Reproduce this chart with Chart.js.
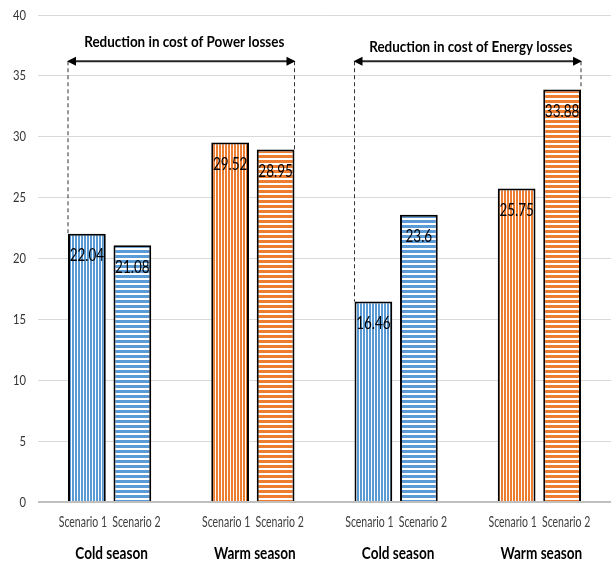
<!DOCTYPE html>
<html>
<head>
<meta charset="utf-8">
<script src="https://cdn.jsdelivr.net/npm/chart.js@4.4.1/dist/chart.umd.min.js"></script>
<style>
  html, body { margin: 0; padding: 0; background: #fff; }
  #wrap { width: 611px; height: 565px; position: relative; }
</style>
</head>
<body>
<div id="wrap"><canvas id="c" width="611" height="565"></canvas></div>
<script>
// Cost reduction per season and scenario
const seasons = ['Cold season', 'Warm season', 'Cold season', 'Warm season'];
const scenarios = ['Scenario 1', 'Scenario 2'];
const scenario1 = [22.04, 29.52, 16.46, 25.75];
const scenario2 = [21.08, 28.95, 23.6, 33.88];
const bracketTitles = ['Reduction in cost of Power losses', 'Reduction in cost of Energy losses'];
const yTicks = [0, 5, 10, 15, 20, 25, 30, 35, 40];

const FONT = "Lato, 'Liberation Sans', sans-serif";
const BLUE = '#5B9BD5';
const ORANGE = '#ED7D31';
const seasonColor = i => (i % 2 === 0 ? BLUE : ORANGE);

// Striped fills: vertical stripes for scenario 1, horizontal for scenario 2
function stripes(color, vertical) {
  const c = document.createElement('canvas');
  const ctx = c.getContext('2d');
  if (vertical) {
    c.width = 3; c.height = 1;
    ctx.fillStyle = '#fff'; ctx.fillRect(0, 0, 3, 1);
    ctx.fillStyle = color; ctx.fillRect(0, 0, 2, 1);
  } else {
    c.width = 1; c.height = 5;
    ctx.fillStyle = '#fff'; ctx.fillRect(0, 0, 1, 5);
    ctx.fillStyle = color; ctx.fillRect(0, 0, 1, 3);
  }
  return document.getElementById('c').getContext('2d').createPattern(c, 'repeat');
}

// Condensed text: draw with a horizontal squeeze
function label(ctx, text, x, y, font, sx, color, align) {
  ctx.save();
  ctx.translate(x, y);
  ctx.scale(sx, 1);
  ctx.font = font;
  ctx.fillStyle = color;
  ctx.textAlign = align || 'center';
  ctx.textBaseline = 'middle';
  ctx.fillText(text, 0, 0);
  ctx.restore();
}

const annotate = {
  id: 'annotate',
  afterDatasetsDraw(chart) {
    const ctx = chart.ctx;
    const m0 = chart.getDatasetMeta(0).data;
    const m1 = chart.getDatasetMeta(1).data;
    const y = chart.scales.y;
    const x = chart.scales.x;
    ctx.save();

    // value axis labels
    yTicks.forEach(v => label(ctx, String(v), 26, y.getPixelForValue(v), '14px ' + FONT, 0.8, '#333', 'right'));

    // values near the top of each bar
    [[m0, scenario1], [m1, scenario2]].forEach(([bars, vals]) => {
      bars.forEach((b, i) => label(ctx, String(vals[i]), b.x, b.y + 22, '18px ' + FONT, 0.75, '#000'));
    });

    // scenario and season labels under the axis
    seasons.forEach((s, i) => {
      label(ctx, scenarios[0], m0[i].x - 4, 522, '15px ' + FONT, 0.7, '#404040');
      label(ctx, scenarios[1], m1[i].x + 4, 522, '15px ' + FONT, 0.7, '#404040');
      label(ctx, s, x.getPixelForValue(i) + 2, 554, 'bold 17px ' + FONT, 0.8, '#000');
    });

    // brackets spanning each pair of seasons
    const arrowY = y.getPixelForValue(36.2);
    const titleOffset = [19, 14];
    bracketTitles.forEach((t, k) => {
      const g0 = k * 2, g1 = k * 2 + 1;
      const left = m0[g0].x - m0[g0].width / 2;
      const right = m1[g1].x + m1[g1].width / 2;

      ctx.strokeStyle = '#333';
      ctx.lineWidth = 1;
      ctx.setLineDash([4, 3]);
      ctx.beginPath();
      ctx.moveTo(left, arrowY); ctx.lineTo(left, m0[g0].y);
      ctx.moveTo(right, arrowY); ctx.lineTo(right, m1[g1].y);
      ctx.stroke();
      ctx.setLineDash([]);

      ctx.strokeStyle = '#262626';
      ctx.lineWidth = 2;
      ctx.beginPath();
      ctx.moveTo(left + 6, arrowY); ctx.lineTo(right - 6, arrowY);
      ctx.stroke();
      ctx.fillStyle = '#000';
      ctx.beginPath();
      ctx.moveTo(left - 1, arrowY); ctx.lineTo(left + 8, arrowY - 4.5); ctx.lineTo(left + 8, arrowY + 4.5); ctx.closePath();
      ctx.fill();
      ctx.beginPath();
      ctx.moveTo(right + 1, arrowY); ctx.lineTo(right - 8, arrowY - 4.5); ctx.lineTo(right - 8, arrowY + 4.5); ctx.closePath();
      ctx.fill();

      label(ctx, t, (left + right) / 2 + 3, arrowY - titleOffset[k], 'bold 16px ' + FONT, 0.84, '#000');
    });
    ctx.restore();
  }
};

Chart.defaults.font.family = FONT;

new Chart(document.getElementById('c'), {
  type: 'bar',
  data: {
    labels: seasons,
    datasets: [
      {
        label: scenarios[0],
        data: scenario1,
        backgroundColor: seasons.map((s, i) => stripes(seasonColor(i), true)),
        borderColor: '#000',
        borderWidth: 2,
        categoryPercentage: 0.635,
        barPercentage: 0.83
      },
      {
        label: scenarios[1],
        data: scenario2,
        backgroundColor: seasons.map((s, i) => stripes(seasonColor(i), false)),
        borderColor: '#000',
        borderWidth: 2,
        categoryPercentage: 0.635,
        barPercentage: 0.83
      }
    ]
  },
  options: {
    responsive: false,
    animation: false,
    devicePixelRatio: 1,
    layout: { padding: { top: 15, bottom: 63, left: 0, right: 0 } },
    plugins: { legend: { display: false }, tooltip: { enabled: false } },
    scales: {
      x: { display: false },
      y: {
        min: 0, max: 40,
        ticks: { stepSize: 5, display: false },
        grid: {
          drawTicks: false,
          color: c => (c.tick && c.tick.value === 0 ? '#bfbfbf' : '#d9d9d9'),
          lineWidth: c => (c.tick && c.tick.value === 0 ? 2 : 1)
        },
        border: { display: false },
        afterFit(s) { s.width = 38; }
      }
    }
  },
  plugins: [annotate]
});
</script>
</body>
</html>
